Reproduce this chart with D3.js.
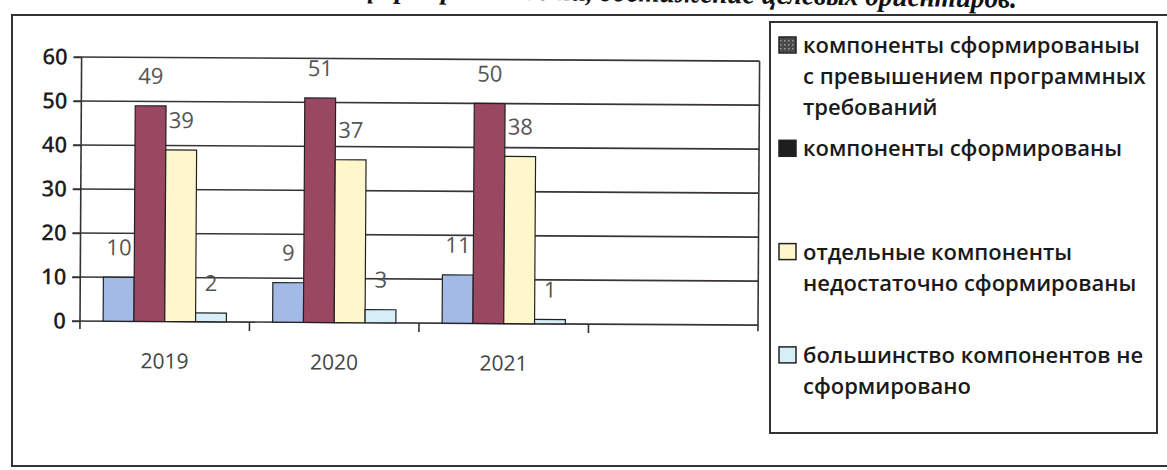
<!DOCTYPE html>
<html>
<head>
<meta charset="utf-8">
<script src="https://cdn.jsdelivr.net/npm/d3@7"></script>
<style>
  html, body { margin: 0; padding: 0; background: #fff; }
  svg { display: block; }
</style>
</head>
<body>
<svg id="chart" width="1167" height="470"></svg>
<script>
// ---- data ----
const categories = ["2019", "2020", "2021", ""];
const seriesNames = [
  "компоненты сформированыы с превышением программных требований",
  "компоненты сформированы",
  "отдельные компоненты недостаточно сформированы",
  "большинство компонентов не сформировано"
];
const legendLines = [
  ["компоненты сформированыы", "с превышением программных", "требований"],
  ["компоненты сформированы"],
  ["отдельные компоненты", "недостаточно сформированы"],
  ["большинство компонентов не", "сформировано"]
];
const valuesExceed = [10, 9, 11];
const valuesFormed = [49, 51, 50];
const valuesPartial = [39, 37, 38];
const valuesNotFormed = [2, 3, 1];
const yTicks = [0, 10, 20, 30, 40, 50, 60];
const titleText = "формированности, достижение целевых ориентиров.";

const seriesValues = [valuesExceed, valuesFormed, valuesPartial, valuesNotFormed];
const barColors = ["#a3b9e6", "#9a4862", "#fff7cc", "#d6eef8"];
const legendColors = ["#4a4a4a", "#1e1e1e", "#fff7cc", "#d6eef8"];

// ---- layout ----
const svg = d3.select("#chart");
const font = "'Open Sans', 'DejaVu Sans', sans-serif";

// clipped title at top (bold italic serif), cut by the page edge as in the scan
svg.append("text")
  .attr("x", 362).attr("y", -3)
  .attr("transform", "rotate(0.95, 362, -3)")
  .attr("font-family", "'Liberation Serif', serif")
  .attr("font-style", "italic").attr("font-weight", "bold")
  .attr("font-size", 30).attr("fill", "#111")
  .attr("textLength", 655).attr("lengthAdjust", "spacingAndGlyphs")
  .text(titleText);

// outer frame
svg.append("rect")
  .attr("x", 12).attr("y", 15).attr("width", 1175).attr("height", 451)
  .attr("fill", "none").attr("stroke", "#333").attr("stroke-width", 2);

const plot = { left: 80, right: 758, top: 57, bottom: 321 };

const x = d3.scaleBand().domain(categories).range([plot.left, plot.right]).paddingInner(0).paddingOuter(0);
const xs = d3.scaleBand().domain(d3.range(seriesNames.length)).range([0, x.bandwidth()]).paddingInner(0).paddingOuter(0.75);
const y = d3.scaleLinear().domain([0, 60]).range([plot.bottom, plot.top]);

// plot group, slightly skewed like the scanned page
const g = svg.append("g").attr("transform", `rotate(0.35, ${plot.left}, ${plot.bottom})`);

// gridlines
g.append("g").selectAll("line").data(yTicks).join("line")
  .attr("x1", plot.left - 8).attr("x2", plot.right)
  .attr("y1", d => y(d)).attr("y2", d => y(d))
  .attr("stroke", "#3a3434").attr("stroke-width", 1.6);

// right plot border
g.append("line")
  .attr("x1", plot.right).attr("x2", plot.right)
  .attr("y1", plot.top).attr("y2", plot.bottom + 6)
  .attr("stroke", "#3a3434").attr("stroke-width", 1.6);

// y axis
const yAxis = d3.axisLeft(y).tickValues(yTicks).tickSize(8).tickPadding(6);
const gy = g.append("g").attr("transform", `translate(${plot.left},0)`).call(yAxis);
gy.select(".domain").attr("stroke", "#333").attr("stroke-width", 1.6)
  .attr("d", `M0,${plot.top}V${plot.bottom + 8}`);
gy.selectAll(".tick line").attr("stroke", "#333").attr("stroke-width", 1.6);
gy.selectAll(".tick text").attr("font-family", font).attr("font-size", 22)
  .attr("font-weight", 600).attr("fill", "#1e1e1e");

// x axis ticks at band boundaries
const gx = g.append("g").attr("transform", `translate(0,${plot.bottom})`);
gx.selectAll("line").data(categories.slice(1)).join("line")
  .attr("x1", d => x(d)).attr("x2", d => x(d))
  .attr("y1", 0).attr("y2", 9)
  .attr("stroke", "#333").attr("stroke-width", 1.6);
gx.selectAll("text").data(categories).join("text")
  .attr("x", d => x(d) + x.bandwidth() / 2)
  .attr("y", 47)
  .attr("text-anchor", "middle")
  .attr("font-family", font).attr("font-size", 21).attr("fill", "#444")
  .text(d => d);

// bars
const bars = [];
seriesValues.forEach((vals, si) => {
  vals.forEach((v, ci) => bars.push({ si, cat: categories[ci], v }));
});
g.append("g").selectAll("rect").data(bars).join("rect")
  .attr("x", d => x(d.cat) + xs(d.si))
  .attr("y", d => y(d.v))
  .attr("width", xs.bandwidth())
  .attr("height", d => y(0) - y(d.v))
  .attr("fill", d => barColors[d.si])
  .attr("stroke", "#222").attr("stroke-width", 1.2);

// data labels
g.append("g").selectAll("text").data(bars).join("text")
  .attr("x", d => x(d.cat) + xs(d.si) + xs.bandwidth() / 2)
  .attr("y", d => y(d.v) - 22)
  .attr("text-anchor", "middle")
  .attr("font-family", font).attr("font-size", 22).attr("fill", "#555")
  .text(d => d.v);

// legend box
svg.append("rect")
  .attr("x", 770).attr("y", 22).attr("width", 387).attr("height", 411)
  .attr("fill", "#fff").attr("stroke", "#333").attr("stroke-width", 2);

// small checked pattern for the first legend marker
const defs = svg.append("defs");
const pat = defs.append("pattern").attr("id", "chk").attr("width", 4).attr("height", 4)
  .attr("patternUnits", "userSpaceOnUse");
pat.append("rect").attr("width", 4).attr("height", 4).attr("fill", legendColors[0]);
pat.append("rect").attr("width", 1.5).attr("height", 1.5).attr("fill", "#9a9a9a");

const leg = svg.append("g");
legendLines.forEach((lines, i) => {
  const cy = 45 + i * 103.3;
  leg.append("rect")
    .attr("x", 779).attr("y", cy - 8).attr("width", 17).attr("height", 16)
    .attr("fill", i === 0 ? "url(#chk)" : legendColors[i])
    .attr("stroke", "#222").attr("stroke-width", 1.5);
  lines.forEach((ln, j) => {
    leg.append("text")
      .attr("x", 803).attr("y", cy + 8 + j * 31)
      .attr("font-family", font).attr("font-size", 22).attr("font-weight", 600)
      .attr("fill", "#1a1a1a")
      .text(ln);
  });
});
</script>
</body>
</html>
